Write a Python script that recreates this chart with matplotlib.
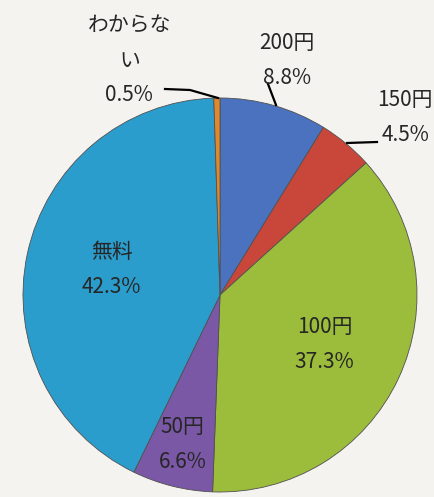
import matplotlib
matplotlib.use('Agg')
import matplotlib.pyplot as plt

plt.rcParams['font.family'] = ['Noto Sans CJK JP', 'DejaVu Sans']

# Slices in clockwise order starting at 12 o'clock
labels = ['200円', '150円', '100円', '50円', '無料', 'わからな\nい']
values = [8.8, 4.5, 37.3, 6.6, 42.3, 0.5]
colors = ['#4a72bf', '#c9473a', '#9cbc3c', '#7a58a5', '#2b9dcc', '#e0892c']

# label positions (pie data units, radius = 1)
label_pos = [(0.34, 1.19), (0.94, 0.90), (0.53, -0.25), (-0.19, -0.76),
             (-0.55, 0.13), (-0.46, 1.19)]

W, H = 434, 497
fig = plt.figure(figsize=(W / 100, H / 100), dpi=100)
fig.patch.set_facecolor('#f4f3ef')

cx, cy, r = 220, 295, 197
ax = fig.add_axes([(cx - r) / W, 1 - (cy + r) / H, 2 * r / W, 2 * r / H])
ax.set_facecolor('none')

ax.pie(values, colors=colors, startangle=90, counterclock=False,
       wedgeprops=dict(edgecolor='#505050', linewidth=0.6))
ax.set_xlim(-1, 1)
ax.set_ylim(-1, 1)
ax.set_aspect('auto')
ax.axis('off')

for lab, val, (x, y) in zip(labels, values, label_pos):
    ax.text(x, y, f'{lab}\n{val}%', ha='center', va='center',
            fontsize=15, color='#262626', linespacing=1.75, clip_on=False)

# leader lines
def px(x, y):
    return (x - cx) / r, (cy - y) / r

leaders = [
    [(165, 89), (190, 90), (218, 98)],
    [(268, 84), (276, 105)],
    [(347, 143), (377, 142)],
]
for pts in leaders:
    xs, ys = zip(*[px(*p) for p in pts])
    ax.plot(xs, ys, color='black', linewidth=1.6, clip_on=False)

fig.savefig('out.png', dpi=100, facecolor=fig.get_facecolor())
